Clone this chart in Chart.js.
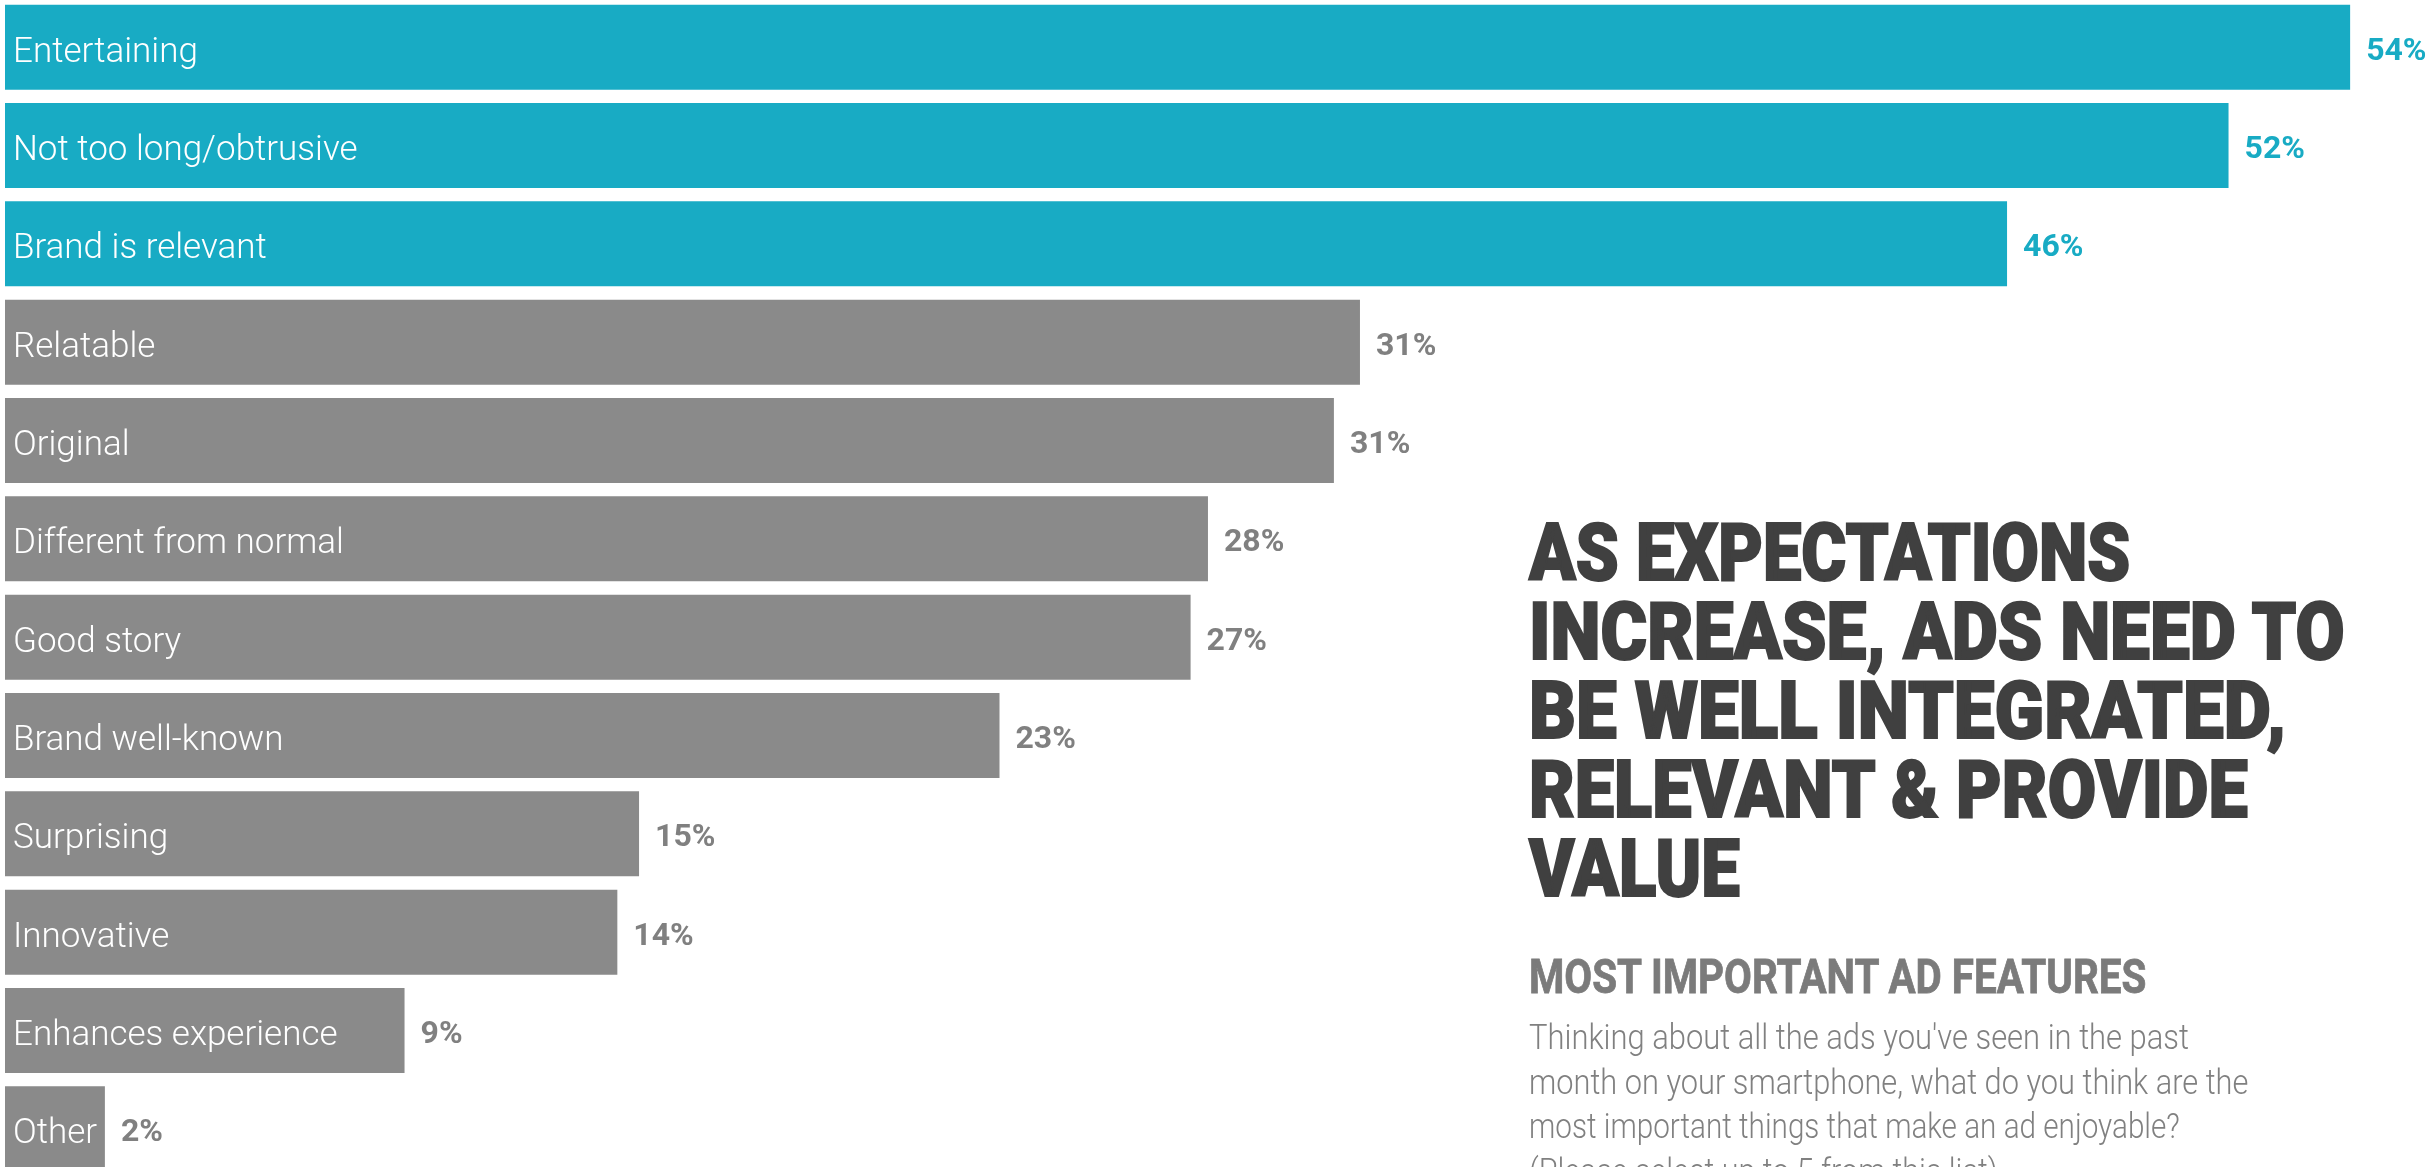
<!DOCTYPE html>
<html>
<head>
<meta charset="utf-8">
<script src="https://cdn.jsdelivr.net/npm/chart.js@4.4.1/dist/chart.umd.min.js"></script>
<style>
  html, body { margin:0; padding:0; background:#ffffff; overflow:hidden; }
  body { width:2427px; height:1167px; position:relative; }
  #chart { position:absolute; left:0; top:-2px; }
  .blk { position:absolute; left:1529px; white-space:nowrap; }
  .ln { width:max-content; transform-origin:0 50%; }
  #title { top:514px; font-family:Roboto, "Liberation Sans", sans-serif; font-weight:900; font-size:80px; line-height:79px; color:#404040; -webkit-text-stroke:2px #404040; }
  #sub { top:953px; font-family:Roboto, "Liberation Sans", sans-serif; font-weight:700; font-size:48px; line-height:48px; color:#7b7b7b; -webkit-text-stroke:0.8px #7b7b7b; }
  #body { top:1016px; font-family:Roboto, "Liberation Sans", sans-serif; font-weight:300; font-size:35px; line-height:44.5px; color:#808080; }
</style>
</head>
<body>
<canvas id="chart" width="2427" height="1180"></canvas>
<div id="title" class="blk">
  <div class="ln" data-w="601">AS EXPECTATIONS</div>
  <div class="ln" data-w="816">INCREASE, ADS NEED TO</div>
  <div class="ln" data-w="757">BE WELL INTEGRATED,</div>
  <div class="ln" data-w="719">RELEVANT &amp; PROVIDE</div>
  <div class="ln" data-w="211">VALUE</div>
</div>
<div id="sub" class="blk">
  <div class="ln" data-w="617">MOST IMPORTANT AD FEATURES</div>
</div>
<div id="body" class="blk">
  <div class="ln" data-w="660">Thinking about all the ads you've seen in the past</div>
  <div class="ln" data-w="719">month on your smartphone, what do you think are the</div>
  <div class="ln" data-w="651">most important things that make an ad enjoyable?</div>
  <div class="ln">(Please select up to 5 from this list)</div>
</div>
<script>
// ---- data ----
const categories = [
  'Entertaining', 'Not too long/obtrusive', 'Brand is relevant', 'Relatable',
  'Original', 'Different from normal', 'Good story', 'Brand well-known',
  'Surprising', 'Innovative', 'Enhances experience', 'Other'
];
const barValues = [54.0, 51.2, 46.1, 31.2, 30.6, 27.7, 27.3, 22.9, 14.6, 14.1, 9.2, 2.3];
const valueLabels = ['54%', '52%', '46%', '31%', '31%', '28%', '27%', '23%', '15%', '14%', '9%', '2%'];
const highlightedCount = 3;

// ---- style ----
const TEAL = '#18abc4';
const GREY_BAR = '#8a8a8a';
const GREY_TEXT = '#808080';

const barLabelPlugin = {
  id: 'barLabels',
  afterDatasetsDraw(chart) {
    const ctx = chart.ctx;
    const meta = chart.getDatasetMeta(0);
    ctx.save();
    ctx.textAlign = 'left';
    ctx.textBaseline = 'alphabetic';
    meta.data.forEach((bar, i) => {
      const y = bar.y;
      ctx.font = '300 35px Roboto, "Liberation Sans", sans-serif';
      ctx.fillStyle = '#ffffff';
      ctx.fillText(categories[i], chart.chartArea.left + 8, y + 14.5);
      ctx.font = '700 32px Roboto, "Liberation Sans", sans-serif';
      ctx.fillStyle = i < highlightedCount ? TEAL : GREY_TEXT;
      ctx.fillText(valueLabels[i], bar.x + 16, y + 12.5);
    });
    ctx.restore();
  }
};

function buildChart() {
  new Chart(document.getElementById('chart'), {
    type: 'bar',
    data: {
      labels: categories,
      datasets: [{
        data: barValues,
        backgroundColor: barValues.map((v, i) => i < highlightedCount ? TEAL : GREY_BAR),
        borderWidth: 0,
        categoryPercentage: 1.0,
        barPercentage: 0.864
      }]
    },
    options: {
      indexAxis: 'y',
      responsive: false,
      animation: false,
      events: [],
      layout: { padding: { left: 5, right: 0, top: 0, bottom: 0 } },
      plugins: { legend: { display: false }, tooltip: { enabled: false } },
      scales: {
        x: { display: false, min: 0, max: 55.77 },
        y: { display: false }
      }
    },
    plugins: [barLabelPlugin]
  });
}

function fitLines() {
  document.querySelectorAll('.blk').forEach(blk => {
    const lines = Array.from(blk.querySelectorAll('.ln'));
    const scales = [];
    lines.forEach(ln => {
      const w = parseFloat(ln.dataset.w);
      if (!isNaN(w)) {
        const s = w / ln.offsetWidth;
        scales.push(s);
        ln.style.transform = 'scaleX(' + s + ')';
      }
    });
    const avg = scales.reduce((a, b) => a + b, 0) / scales.length;
    lines.forEach(ln => {
      if (isNaN(parseFloat(ln.dataset.w))) ln.style.transform = 'scaleX(' + avg + ')';
    });
  });
}

const ready = (document.fonts && document.fonts.ready) ? document.fonts.ready : Promise.resolve();
ready.then(() => { fitLines(); buildChart(); });
</script>
</body>
</html>
